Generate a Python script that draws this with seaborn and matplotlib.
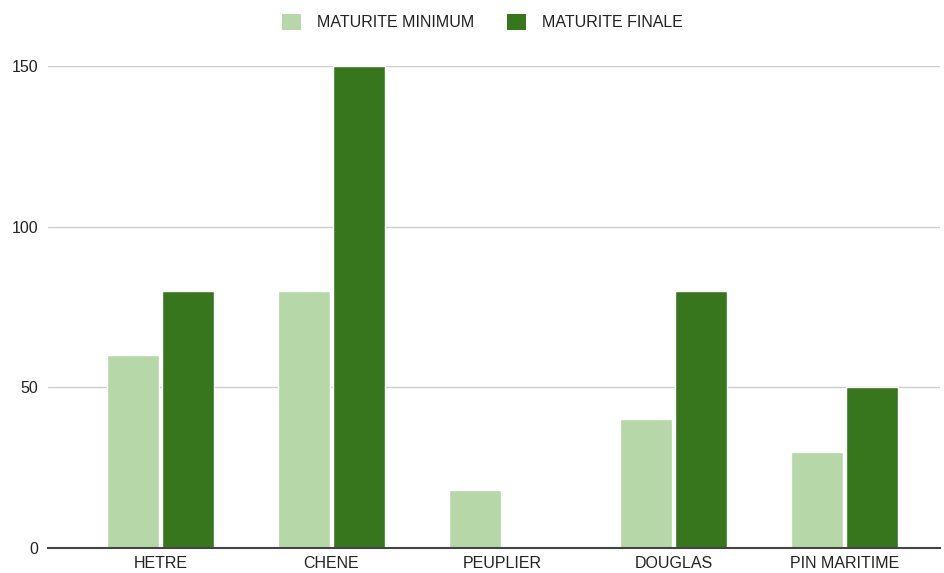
import matplotlib
matplotlib.use("Agg")
import matplotlib.pyplot as plt
import seaborn as sns
import pandas as pd
from matplotlib.patches import Patch

categories = ["HETRE", "CHENE", "PEUPLIER", "DOUGLAS", "PIN MARITIME"]
maturite_minimum = [60, 80, 18, 40, 30]
maturite_finale = [80, 150, 0, 80, 50]
series_names = ["MATURITE MINIMUM", "MATURITE FINALE"]
yticks = [0, 50, 100, 150]

df = pd.DataFrame({
    "cat": categories * 2,
    "serie": [series_names[0]] * 5 + [series_names[1]] * 5,
    "val": maturite_minimum + maturite_finale,
})

sns.set_theme(style="white")
plt.rcParams["font.family"] = ["Liberation Sans", "DejaVu Sans"]

fig = plt.figure(figsize=(9.44, 5.73), dpi=100)
ax = fig.add_axes([48 / 944, 1 - 548 / 573, (940 - 48) / 944, (548 - 66) / 573])

palette = {series_names[0]: "#b6d7a8", series_names[1]: "#38761d"}
sns.barplot(data=df, x="cat", y="val", hue="serie", palette=palette,
            width=0.64, gap=0.06, ax=ax, legend=False, saturation=1)

ax.set_ylim(0, 150)
ax.set_xlim((48 - 160.5) / 171, (940 - 160.5) / 171)
ax.set_yticks(yticks)
ax.set_yticklabels([str(t) for t in yticks], fontsize=11.5, color="#222222")
ax.tick_params(axis="x", labelsize=11.5, colors="#222222", length=0, pad=6)
ax.tick_params(axis="y", length=0, pad=7)
ax.set_xlabel("")
ax.set_ylabel("")
ax.grid(axis="y", color="#cccccc", linewidth=1)
ax.set_axisbelow(True)
for s in ["top", "right", "left"]:
    ax.spines[s].set_visible(False)
ax.spines["bottom"].set_color("#444444")
ax.spines["bottom"].set_linewidth(1.5)
ax.spines["bottom"].set_zorder(5)

handles = [Patch(facecolor=palette[n], edgecolor="none") for n in series_names]
fig.legend(handles, series_names, loc="center", bbox_to_anchor=(0.511, 1 - 22 / 573),
           ncol=2, frameon=False, fontsize=11.5, handlelength=1.2, handleheight=1.2,
           handletextpad=1.0, columnspacing=2.0, labelcolor="#222222")

fig.savefig("out.png", dpi=100)
